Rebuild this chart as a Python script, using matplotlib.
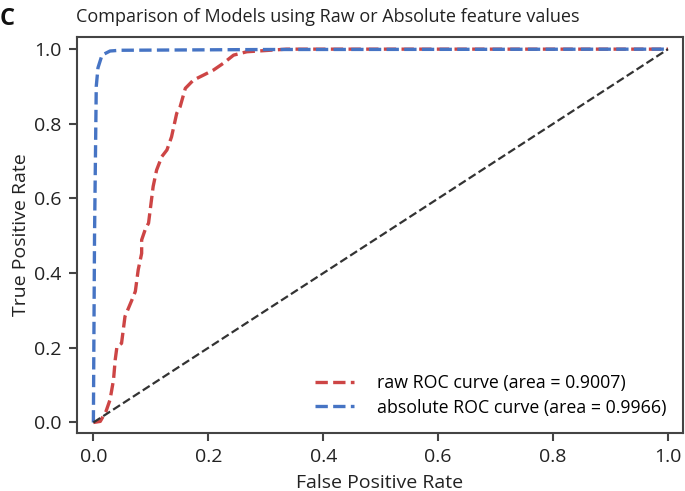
import numpy as np
import matplotlib
matplotlib.use("Agg")
import matplotlib.pyplot as plt

plt.rcParams['font.family'] = ['Open Sans', 'DejaVu Sans']

# ROC points for the model trained on raw feature values
raw_fpr = [0.0, 0.012, 0.022, 0.029, 0.035, 0.038, 0.041, 0.049, 0.055, 0.067,
           0.073, 0.078, 0.084, 0.084, 0.090, 0.096, 0.104, 0.110, 0.119, 0.128,
           0.136, 0.145, 0.151, 0.160, 0.174, 0.191, 0.209, 0.226, 0.244, 0.267,
           0.307, 0.336, 1.0]
raw_tpr = [0.0, 0.003, 0.030, 0.061, 0.114, 0.168, 0.203, 0.212, 0.284, 0.328,
           0.351, 0.409, 0.453, 0.489, 0.516, 0.534, 0.632, 0.676, 0.712, 0.730,
           0.765, 0.828, 0.846, 0.895, 0.917, 0.930, 0.944, 0.962, 0.984, 0.993,
           0.997, 1.0, 1.0]

# ROC points for the model trained on absolute feature values
abs_fpr = [0.0, 0.002, 0.005, 0.008, 0.015, 0.029, 0.046, 0.300, 1.0]
abs_tpr = [0.0, 0.500, 0.900, 0.950, 0.984, 0.995, 0.997, 0.999, 1.0]

raw_auc = 0.9007
abs_auc = 0.9966

fig = plt.figure(figsize=(6.85, 4.91), dpi=100)
ax = fig.add_axes([0.112, 0.119, 0.885, 0.806])

ax.plot(raw_fpr, raw_tpr, color='#cd4545', lw=2.4, linestyle='--',
        label='raw ROC curve (area = %0.4f)' % raw_auc)
ax.plot(abs_fpr, abs_tpr, color='#4674c4', lw=2.4, linestyle='--',
        label='absolute ROC curve (area = %0.4f)' % abs_auc)
ax.plot([0, 1], [0, 1], color='#333333', lw=1.6, linestyle='--')

ax.set_xlim(-0.029, 1.026)
ax.set_ylim(-0.027, 1.033)
ax.set_xticks([0.0, 0.2, 0.4, 0.6, 0.8, 1.0])
ax.set_yticks([0.0, 0.2, 0.4, 0.6, 0.8, 1.0])

for s in ax.spines.values():
    s.set_color('#444444')
    s.set_linewidth(1.5)
ax.tick_params(direction='out', length=6, width=1.5, color='#444444',
               labelsize=14, labelcolor='#222222', pad=5)

ax.set_xlabel('False Positive Rate', fontsize=14, color='#222222', labelpad=6)
ax.set_ylabel('True Positive Rate', fontsize=14, color='#222222', labelpad=3)
fig.text(0.478, 0.965, 'Comparison of Models using Raw or Absolute feature values',
         ha='center', va='center', fontsize=13, color='#222222')
fig.text(0.0, 0.962, 'C', ha='left', va='center', fontsize=17,
         fontweight='bold', color='#111111')

ax.legend(loc='lower right', frameon=False, fontsize=12.8, handlelength=2.2,
          handletextpad=1.3, borderaxespad=0.5, labelspacing=0.35)

fig.savefig('out.png', dpi=100)
